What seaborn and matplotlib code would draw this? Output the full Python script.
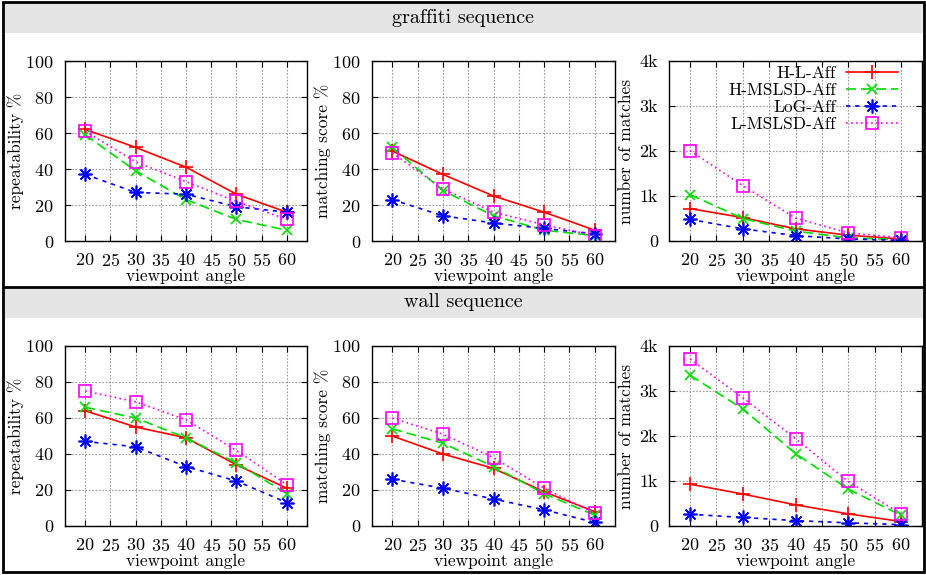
import numpy as np
import pandas as pd
import matplotlib
matplotlib.use("Agg")
import matplotlib.pyplot as plt
import seaborn as sns
from matplotlib.patches import Rectangle
from matplotlib.lines import Line2D
from matplotlib.ticker import FuncFormatter

# --- data ---
angles = [20, 30, 40, 50, 60]
methods = ["H-L-Aff", "H-MSLSD-Aff", "LoG-Aff", "L-MSLSD-Aff"]

# graffiti sequence
graffiti_repeat = {
    "H-L-Aff":     [62, 52, 41, 26, 16],
    "H-MSLSD-Aff": [59, 39, 23, 12, 6],
    "LoG-Aff":     [37, 27, 26, 19, 16],
    "L-MSLSD-Aff": [61, 44, 33, 22, 12],
}
graffiti_score = {
    "H-L-Aff":     [50, 37, 25, 16, 6],
    "H-MSLSD-Aff": [52, 28, 14, 6, 3],
    "LoG-Aff":     [23, 14, 10, 7, 4],
    "L-MSLSD-Aff": [49, 29, 16, 9, 3],
}
graffiti_matches = {
    "H-L-Aff":     [720, 520, 270, 130, 45],
    "H-MSLSD-Aff": [1030, 500, 220, 70, 30],
    "LoG-Aff":     [480, 270, 120, 45, 15],
    "L-MSLSD-Aff": [2010, 1230, 510, 180, 75],
}

# wall sequence
wall_repeat = {
    "H-L-Aff":     [64, 55, 49, 34, 21],
    "H-MSLSD-Aff": [66, 60, 49, 35, 18],
    "LoG-Aff":     [47, 44, 33, 25, 13],
    "L-MSLSD-Aff": [75, 69, 59, 42, 23],
}
wall_score = {
    "H-L-Aff":     [50, 40, 32, 19, 8],
    "H-MSLSD-Aff": [54, 46, 33, 18, 6],
    "LoG-Aff":     [26, 21, 15, 9, 2],
    "L-MSLSD-Aff": [60, 51, 38, 21, 7],
}
wall_matches = {
    "H-L-Aff":     [930, 710, 470, 270, 100],
    "H-MSLSD-Aff": [3350, 2600, 1610, 820, 240],
    "LoG-Aff":     [260, 190, 120, 70, 30],
    "L-MSLSD-Aff": [3710, 2850, 1940, 990, 270],
}

sequences = ["graffiti sequence", "wall sequence"]
panels = [
    [(graffiti_repeat, "repeatability %"), (graffiti_score, "matching score %"),
     (graffiti_matches, "number of matches")],
    [(wall_repeat, "repeatability %"), (wall_score, "matching score %"),
     (wall_matches, "number of matches")],
]

# --- styles ---
styles = {
    "H-L-Aff":     dict(color="#ff0000", marker="+", linestyle="-", markersize=10),
    "H-MSLSD-Aff": dict(color="#00dd00", marker="x", linestyle=(0, (6, 3)), markersize=7.5),
    "LoG-Aff":     dict(color="#0000ff", marker=(8, 2, 0), linestyle=(0, (2.5, 3)), markersize=10),
    "L-MSLSD-Aff": dict(color="#ff00ff", marker="s", linestyle=(0, (1, 2)), markersize=8,
                        markerfacecolor="none"),
}

sns.set_theme(style="ticks", rc={
    "axes.edgecolor": "black", "text.color": "black", "axes.labelcolor": "black",
    "xtick.color": "black", "ytick.color": "black",
})
plt.rcParams["font.family"] = ["cmr10", "DejaVu Serif"]
plt.rcParams["mathtext.fontset"] = "cm"
plt.rcParams["axes.formatter.use_mathtext"] = True

W, H = 926, 575
fig = plt.figure(figsize=(W / 100, H / 100), dpi=100)

# frame, title bands, separator (pixel coords -> figure fraction)
def fig_rect(x0, y0, x1, y1, **kw):
    fig.add_artist(Rectangle((x0 / W, 1 - y1 / H), (x1 - x0) / W, (y1 - y0) / H,
                             transform=fig.transFigure, **kw))

fig_rect(4, 3, 923, 33, facecolor="#e5e5e5", edgecolor="none")
fig_rect(4, 288, 923, 318, facecolor="#e5e5e5", edgecolor="none")
fig.add_artist(Line2D([4 / W, 923 / W], [1 - 287 / H, 1 - 287 / H], color="black", lw=2,
                      transform=fig.transFigure))
fig_rect(3, 2, 924, 572, facecolor="none", edgecolor="black", lw=2)
fig.text(463 / W, 1 - 18 / H, sequences[0], ha="center", va="center", fontsize=14.5)
fig.text(463 / W, 1 - 302 / H, sequences[1], ha="center", va="center", fontsize=14.5)

rows = [(61, 241), (346, 526)]
cols = [(65, 307), (372, 615), (669, 922)]

kfmt = FuncFormatter(lambda v, p: "0" if v == 0 else f"{int(v / 1000)}k")

for r, (top, bot) in enumerate(rows):
    for c, (left, right) in enumerate(cols):
        ax = fig.add_axes([left / W, 1 - bot / H, (right - left) / W, (bot - top) / H])
        data, ylabel = panels[r][c]
        for m in methods:
            df = pd.DataFrame({"angle": angles, "value": data[m]})
            st = styles[m]
            sns.lineplot(data=df, x="angle", y="value", ax=ax, legend=False, label=m,
                         lw=1.2, markeredgewidth=1.2, markeredgecolor=st["color"], **st)
        ax.set_xlim(16, 64)
        ax.set_xticks(np.arange(20, 61, 5))
        if c == 2:
            ax.set_ylim(0, 4000)
            ax.set_yticks(np.arange(0, 4001, 1000))
            ax.yaxis.set_major_formatter(kfmt)
            ax.yaxis.set_label_coords(-0.138, 0.5)
        else:
            ax.set_ylim(0, 100)
            ax.set_yticks(np.arange(0, 101, 20))
            ax.yaxis.set_label_coords(-0.17, 0.5)
        ax.set_xlabel("viewpoint angle", fontsize=12.5)
        ax.set_ylabel(ylabel, fontsize=12.5)
        ax.xaxis.set_label_coords(0.5, -0.155)
        ax.grid(True, linestyle=(0, (1.5, 1.5)), color="#999999", lw=0.8)
        ax.tick_params(direction="in", top=True, right=True, length=4, width=0.8,
                       labelsize=13)
        ax.tick_params(axis="x", pad=8)
        ax.tick_params(axis="y", pad=8)
        for s in ax.spines.values():
            s.set_linewidth(1.0)
        if r == 0 and c == 2:
            leg = ax.legend(loc="upper right", markerfirst=False, frameon=False,
                            fontsize=12.5, handlelength=3.0, handletextpad=0.6,
                            labelspacing=0.1, borderaxespad=0.3,
                            bbox_to_anchor=(0.955, 1.04))

fig.savefig("out.png", dpi=100)
